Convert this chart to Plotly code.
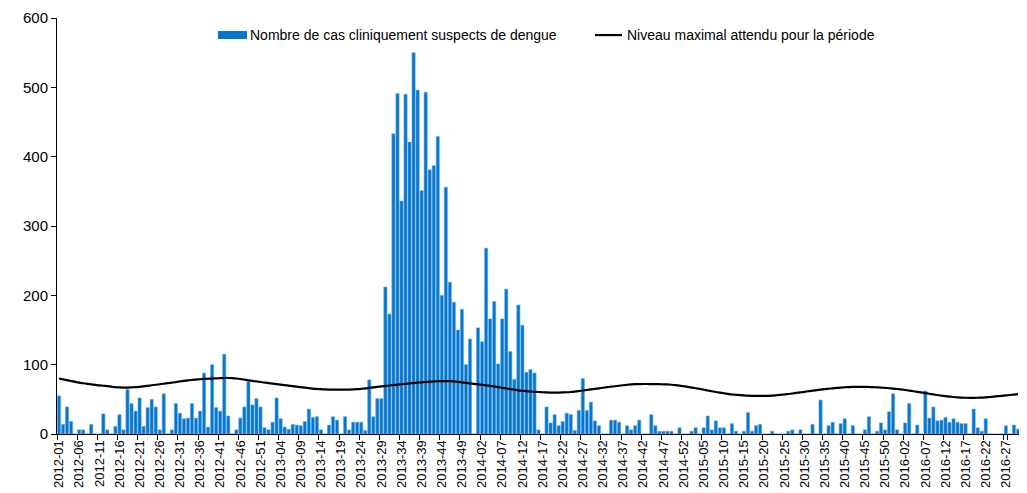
import plotly.graph_objects as go

# weeks per year shown (2016 partial)
years = [2012, 2013, 2014, 2015, 2016]
weeks_in_year = [52, 52, 52, 53, 30]
categories = [f"{y}-{w:02d}" for y, n in zip(years, weeks_in_year) for w in range(1, n + 1)]

cases = [
    55, 14, 39, 18, 0, 6, 6, 0, 14, 0,
    0, 29, 6, 0, 11, 28, 6, 64, 44, 33,
    52, 11, 38, 50, 39, 6, 58, 0, 6, 44,
    30, 22, 23, 44, 23, 33, 88, 10, 100, 38,
    33, 115, 26, 0, 6, 23, 39, 76, 42, 51,
    39, 9, 6, 17, 52, 22, 10, 7, 14, 13,
    12, 18, 36, 24, 25, 6, 0, 13, 25, 20,
    0, 25, 6, 17, 17, 17, 5, 78, 25, 51,
    51, 212, 173, 433, 491, 336, 490, 421, 550, 496,
    351, 493, 381, 387, 429, 200, 356, 219, 190, 150,
    180, 100, 137, 0, 153, 133, 268, 166, 191, 101,
    166, 209, 119, 79, 186, 157, 89, 93, 88, 6,
    0, 39, 16, 28, 12, 18, 30, 28, 5, 34,
    80, 34, 46, 19, 12, 0, 0, 20, 20, 17,
    0, 12, 6, 12, 20, 0, 0, 28, 12, 4,
    4, 4, 4, 0, 9, 0, 0, 4, 9, 0,
    9, 26, 6, 19, 9, 9, 0, 15, 4, 0,
    4, 31, 4, 12, 14, 0, 0, 4, 0, 0,
    0, 4, 6, 0, 6, 0, 0, 14, 0, 49,
    0, 12, 17, 0, 15, 22, 0, 12, 0, 0,
    6, 25, 0, 4, 16, 6, 32, 58, 6, 0,
    16, 44, 0, 13, 0, 62, 23, 39, 19, 20,
    24, 17, 22, 17, 15, 15, 0, 36, 9, 4,
    22, 0, 0, 0, 0, 12, 0, 13, 7,
]

threshold = [
    80, 78.8, 77.6, 76.4, 75.2, 74, 73.2, 72.4, 71.6, 70.9,
    70.2, 69.6, 69, 68.3, 67.6, 67.2, 67, 67, 67.3, 67.6,
    68, 68.7, 69.5, 70.3, 71, 71.8, 72.5, 73.3, 74, 74.9,
    75.8, 76.6, 77.3, 78, 78.5, 79, 79.4, 79.7, 80, 80.3,
    80.6, 80.8, 80.8, 80.5, 80, 79.3, 78.4, 77.5, 76.6, 75.8,
    75, 74.2, 73.4, 72.7, 72, 71.3, 70.6, 69.9, 69.1, 68.3,
    67.5, 66.8, 66.1, 65.5, 65, 64.6, 64.3, 64.1, 64, 64,
    64, 64, 64.1, 64.3, 64.7, 65.2, 65.8, 66.5, 67.2, 67.9,
    68.6, 69.3, 70, 70.6, 71.2, 71.8, 72.4, 73, 73.5, 74,
    74.5, 75, 75.4, 75.8, 76.1, 76.3, 76.4, 76.2, 75.8, 75.2,
    74.5, 73.8, 73.1, 72.4, 71.7, 71, 70.2, 69.3, 68.4, 67.5,
    66.6, 65.7, 64.8, 63.9, 63, 62.4, 61.8, 61.3, 60.9, 60.6,
    60.2, 59.9, 59.7, 59.6, 59.7, 59.9, 60.2, 60.6, 61.2, 61.9,
    62.7, 63.5, 64.3, 65.1, 65.9, 66.7, 67.5, 68.2, 68.9, 69.6,
    70.3, 71, 71.5, 71.8, 72, 72.1, 72.1, 72, 71.9, 71.8,
    71.7, 71.5, 71, 70.4, 69.7, 69, 68, 67, 66, 65,
    63.9, 62.8, 61.7, 60.6, 59.7, 58.8, 57.9, 57, 56.5, 56,
    55.6, 55.3, 55.1, 55, 55, 55, 55.1, 55.4, 55.9, 56.4,
    57, 57.7, 58.4, 59.2, 60, 60.8, 61.7, 62.5, 63.3, 64,
    64.7, 65.3, 65.9, 66.5, 67, 67.4, 67.7, 67.9, 68, 68,
    68, 67.8, 67.6, 67.3, 67, 66.5, 66, 65.4, 64.9, 64.4,
    63.5, 62.6, 61.7, 60.8, 60, 59, 58, 57.1, 56.2, 55.3,
    54.6, 54, 53.4, 52.9, 52.5, 52.3, 52.2, 52.2, 52.3, 52.5,
    52.9, 53.4, 53.9, 54.5, 55, 55.6, 56.2, 56.9, 57.6,
]

y_ticks = [0, 100, 200, 300, 400, 500, 600]
bar_name = "Nombre de cas cliniquement suspects de dengue"
line_name = "Niveau maximal attendu pour la période"

BAR_COLOR = "#0676CC"
FONT = "Liberation Sans, Arial, sans-serif"

fig = go.Figure()
fig.add_trace(go.Bar(
    x=categories, y=cases, name=bar_name,
    marker=dict(color=BAR_COLOR, line=dict(color="#6AB0E8", width=0.6)),
))
fig.add_trace(go.Scatter(
    x=categories, y=threshold, name=line_name, mode="lines",
    line=dict(color="black", width=2.2, shape="spline"),
))

# page body has an 8px margin: figure sized to fit the 1027x493 window
fig.update_layout(
    width=1019, height=485,
    margin=dict(l=49, r=7, t=10, b=59, autoexpand=False),
    paper_bgcolor="white", plot_bgcolor="white",
    font=dict(family=FONT, color="black", size=12),
    bargap=0.2,
    showlegend=False,
)

# hand-drawn legend matching the original layout
legend_font = dict(family=FONT, size=14, color="black")
fig.add_shape(type="rect", xref="paper", yref="paper",
              x0=0.1672, x1=0.1973, y0=0.9495, y1=0.9688,
              fillcolor=BAR_COLOR, line=dict(width=0))
fig.add_annotation(xref="paper", yref="paper", x=0.1983, y=0.959,
                   xanchor="left", yanchor="middle", showarrow=False,
                   text=bar_name, font=legend_font)
fig.add_shape(type="line", xref="paper", yref="paper",
              x0=0.5587, x1=0.5867, y0=0.959, y1=0.959,
              line=dict(color="black", width=2.2))
fig.add_annotation(xref="paper", yref="paper", x=0.5898, y=0.959,
                   xanchor="left", yanchor="middle", showarrow=False,
                   text=line_name, font=legend_font)

fig.update_xaxes(
    type="category", categoryorder="array", categoryarray=categories,
    tickmode="array", tickvals=categories[::5], ticktext=categories[::5],
    tickangle=-90, tickfont=dict(size=13),
    showline=True, linecolor="black", linewidth=1,
    ticks="outside", ticklen=5, tickcolor="black", tickson="boundaries",
    showgrid=False, zeroline=False, automargin=False,
)
fig.update_yaxes(
    range=[0, 600], tickmode="array", tickvals=y_ticks,
    tickfont=dict(size=15),
    showline=True, linecolor="black", linewidth=1,
    ticks="outside", ticklen=5, tickcolor="black",
    showgrid=False, zeroline=False, automargin=False,
)

fig.write_html("out.html")
